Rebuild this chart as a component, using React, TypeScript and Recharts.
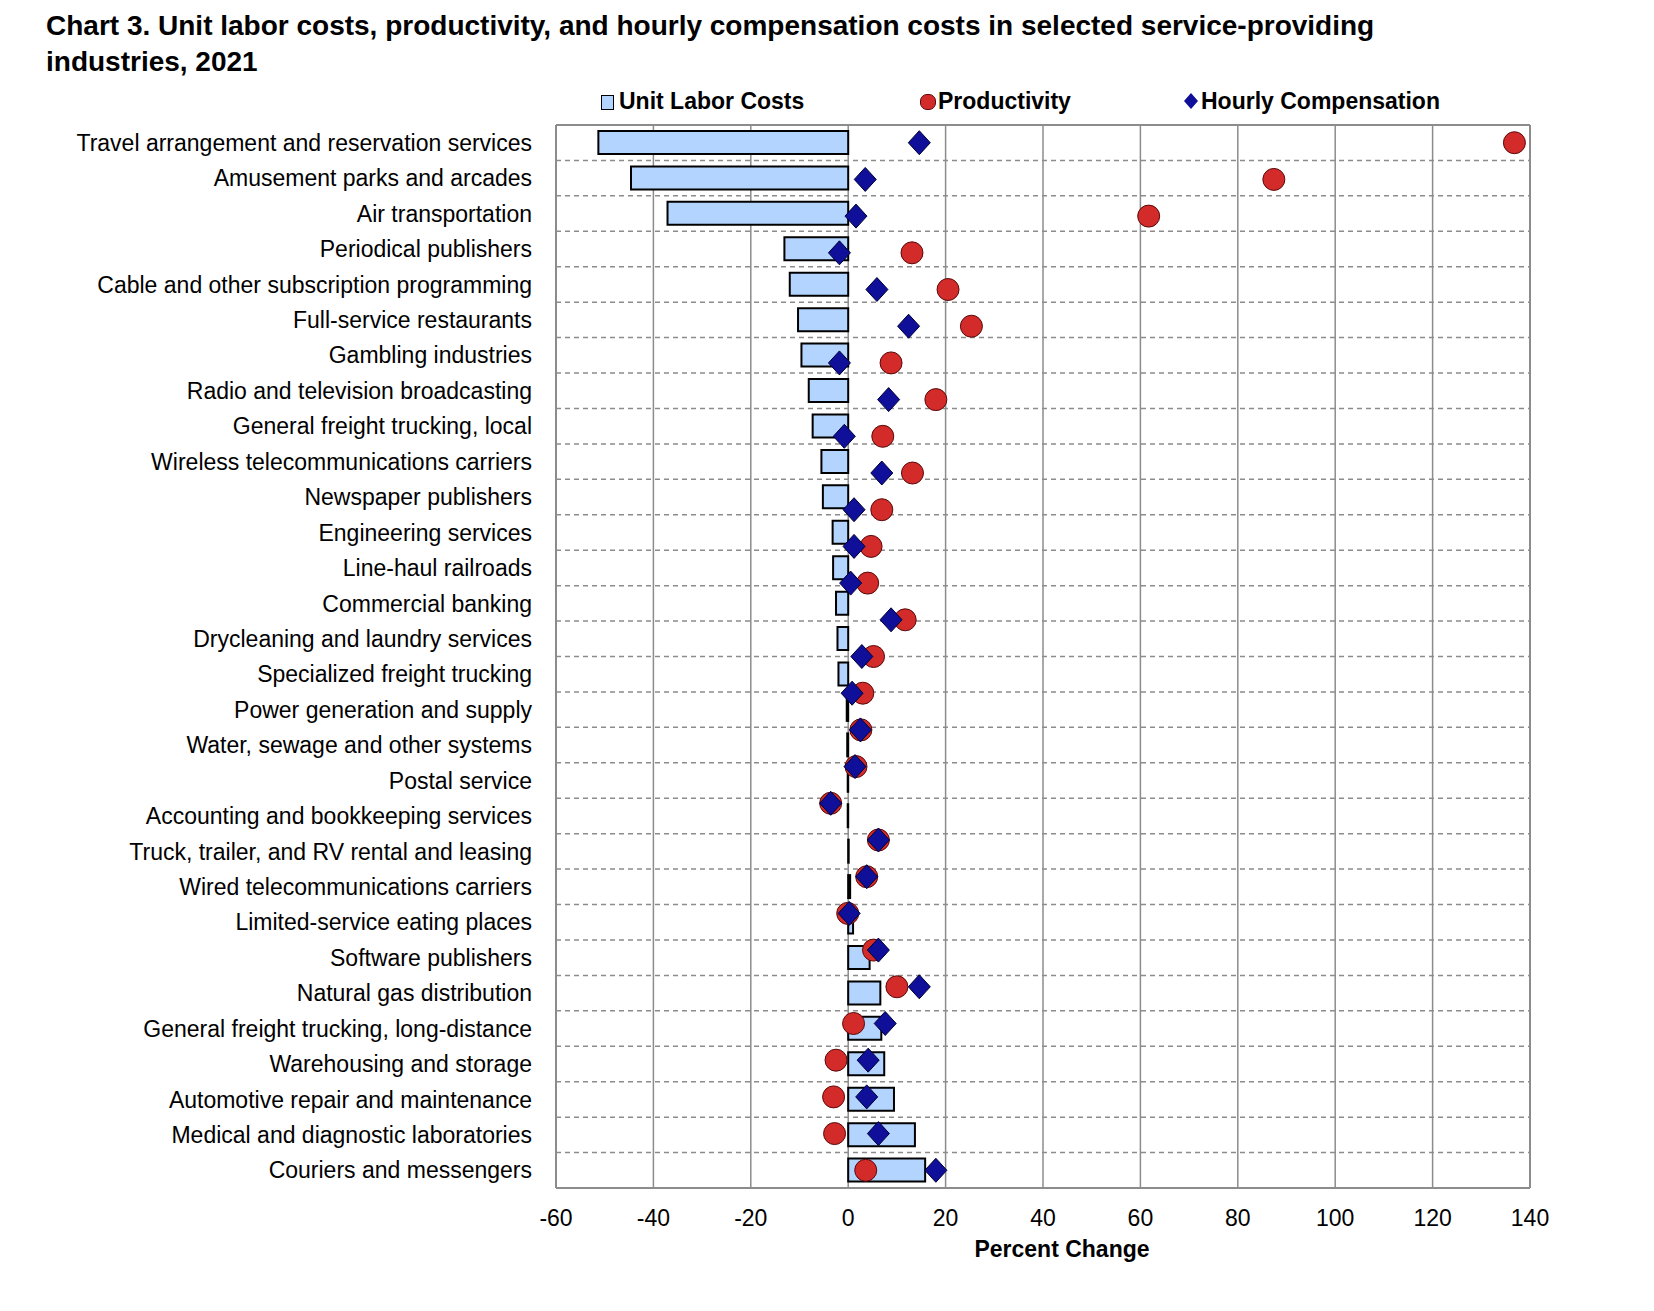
import React from "react";
import { ComposedChart, ScatterChart, Bar, Scatter, XAxis, YAxis, CartesianGrid } from "recharts";

const industries = [
  "Travel arrangement and reservation services", "Amusement parks and arcades", "Air transportation",
  "Periodical publishers", "Cable and other subscription programming", "Full-service restaurants",
  "Gambling industries", "Radio and television broadcasting", "General freight trucking, local",
  "Wireless telecommunications carriers", "Newspaper publishers", "Engineering services",
  "Line-haul railroads", "Commercial banking", "Drycleaning and laundry services",
  "Specialized freight trucking", "Power generation and supply", "Water, sewage and other systems",
  "Postal service", "Accounting and bookkeeping services", "Truck, trailer, and RV rental and leasing",
  "Wired telecommunications carriers", "Limited-service eating places", "Software publishers",
  "Natural gas distribution", "General freight trucking, long-distance", "Warehousing and storage",
  "Automotive repair and maintenance", "Medical and diagnostic laboratories", "Couriers and messengers",
];
const unitLaborCosts = [
  -51.3, -44.6, -37.1, -13.1, -12.0, -10.3, -9.6, -8.1, -7.3, -5.5, -5.2, -3.2, -3.1, -2.5, -2.2,
  -2.0, -0.3, -0.2, -0.1, -0.1, 0.1, 0.4, 1.0, 4.4, 6.6, 6.8, 7.4, 9.4, 13.7, 15.8,
];
// marker series (29 points plotted on their own evenly spaced axis)
const productivity = [
  136.8, 87.4, 61.7, 13.1, 20.5, 25.3, 8.8, 18.0, 7.1, 13.2, 6.9, 4.7, 4.0, 11.7, 5.2,
  3.0, 2.6, 1.6, -3.6, 6.2, 3.8, -0.1, 5.2, 10.0, 1.1, -2.5, -3.0, -2.8, 3.6,
];
const hourlyCompensation = [
  14.6, 3.5, 1.6, -1.8, 5.9, 12.4, -1.8, 8.3, -0.8, 6.9, 1.2, 1.2, 0.5, 8.8, 2.8,
  0.8, 2.5, 1.4, -3.6, 6.2, 3.8, 0.2, 6.2, 14.6, 7.6, 4.1, 3.8, 6.2, 18.0,
];
const xTicks = [-60, -40, -20, 0, 20, 40, 60, 80, 100, 120, 140];

const barData = industries.map((name, i) => ({ name, ulc: unitLaborCosts[i] }));
const prodData = productivity.map((v, j) => ({ x: v, y: j }));
const compData = hourlyCompensation.map((v, j) => ({ x: v, y: j }));

const W = 1654, H = 1311;
const L = 556, R = 1530, T = 125, B = 1188;
const FONT = "'Liberation Sans', Arial, sans-serif";
const n = industries.length;
const m = productivity.length;
const span = (n * (m - 1)) / (n - 1);
const yDom: [number, number] = [-0.5 * span / n, -0.5 * span / n + span];

const Circle = (p: any) => <circle cx={p.cx} cy={p.cy} r={11} fill="#D32A2A" stroke="#5a0a0a" strokeWidth={1} />;
const Diamond = (p: any) => (
  <polygon points={`${p.cx},${p.cy - 12} ${p.cx + 11},${p.cy} ${p.cx},${p.cy + 12} ${p.cx - 11},${p.cy}`} fill="#0F0F99" stroke="#000033" strokeWidth={1} />
);

export default function App() {
  return (
    <div style={{ position: "absolute", left: 0, top: 0, width: W, height: H, background: "#fff", fontFamily: FONT }}>
      <div style={{ position: "absolute", left: 46, top: 8, fontSize: 28, fontWeight: "bold", lineHeight: "36px", color: "#000", width: 1500 }}>
        Chart 3. Unit labor costs, productivity, and hourly compensation costs in selected service-providing<br />industries, 2021
      </div>
      <div style={{ position: "absolute", top: 88, left: 0, fontSize: 23, fontWeight: "bold", color: "#000", whiteSpace: "nowrap" }}>
        <span style={{ position: "absolute", left: 601, top: 7, width: 11, height: 13, background: "#B3D4FF", border: "1.5px solid #000" }} />
        <span style={{ position: "absolute", left: 619, top: 0 }}>Unit Labor Costs</span>
        <span style={{ position: "absolute", left: 920, top: 6, width: 14, height: 14, borderRadius: 7, background: "#D32A2A", border: "1px solid #5a0a0a" }} />
        <span style={{ position: "absolute", left: 938, top: 0 }}>Productivity</span>
        <svg style={{ position: "absolute", left: 1183, top: 4 }} width="16" height="18"><polygon points="8,1 15,9 8,17 1,9" fill="#0F0F99" /></svg>
        <span style={{ position: "absolute", left: 1201, top: 0 }}>Hourly Compensation</span>
      </div>

      <div style={{ position: "absolute", left: 0, top: 0 }}>
        <ComposedChart width={W} height={H} layout="vertical" data={barData}
          margin={{ top: T, left: 0, right: W - R, bottom: H - B - 60 }}>
          <CartesianGrid stroke="#8c8c8c" strokeWidth={1.5} vertical={false}
            horizontalCoordinatesGenerator={({ offset }: any) =>
              industries.slice(1).map((_, i) => offset.top + ((i + 1) * offset.height) / n)}
            strokeDasharray="5 4" />
          <CartesianGrid stroke="#8c8c8c" strokeWidth={1.5} horizontal={false} />
          <XAxis type="number" domain={[-60, 140]} ticks={xTicks} height={60} tickLine={false}
            axisLine={{ stroke: "#8c8c8c", strokeWidth: 2 }} tickMargin={16}
            tick={{ fontSize: 23, fill: "#000", fontFamily: FONT }} />
          <YAxis type="category" dataKey="name" width={L} tickLine={false} axisLine={{ stroke: "#8c8c8c", strokeWidth: 2 }}
            tickMargin={18} interval={0} tick={{ fontSize: 23, fill: "#000", fontFamily: FONT }} />
          <Bar dataKey="ulc" barSize={23} fill="#B3D4FF" stroke="#000" strokeWidth={2} isAnimationActive={false} />
        </ComposedChart>
      </div>
      <div style={{ position: "absolute", left: L, top: T - 1, width: R - L, height: 1, borderTop: "2px solid #8c8c8c" }} />
      <div style={{ position: "absolute", left: R - 1, top: T, width: 0, height: B - T, borderLeft: "2px solid #8c8c8c" }} />

      <div style={{ position: "absolute", left: 0, top: 0 }}>
        <ScatterChart width={W} height={H} margin={{ top: T, left: L, right: W - R, bottom: H - B }}>
          <XAxis type="number" dataKey="x" domain={[-60, 140]} hide />
          <YAxis type="number" dataKey="y" domain={yDom} reversed hide />
          <Scatter data={prodData} shape={Circle} isAnimationActive={false} />
          <Scatter data={compData} shape={Diamond} isAnimationActive={false} />
        </ScatterChart>
      </div>

      <div style={{ position: "absolute", left: 0, width: 2124, top: 1236, textAlign: "center", fontSize: 23, fontWeight: "bold" }}>
        Percent Change
      </div>
    </div>
  );
}
